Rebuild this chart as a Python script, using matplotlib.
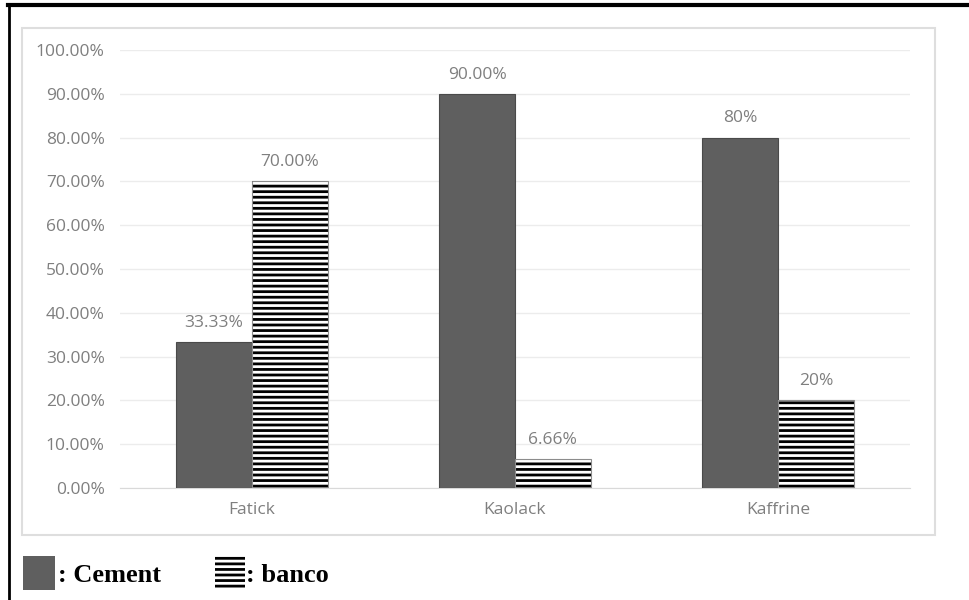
import matplotlib
import matplotlib.pyplot as plt
from matplotlib.lines import Line2D
from matplotlib.patches import Rectangle
import numpy as np

matplotlib.rcParams["hatch.linewidth"] = 2.0
matplotlib.rcParams["hatch.color"] = "black"

# ── data ──────────────────────────────────────────────
regions = ["Fatick", "Kaolack", "Kaffrine"]
cement = [33.33, 90.00, 80.0]
banco = [70.00, 6.66, 20.0]
cement_labels = ["33.33%", "90.00%", "80%"]
banco_labels = ["70.00%", "6.66%", "20%"]
yticks = [0, 10, 20, 30, 40, 50, 60, 70, 80, 90, 100]

W, H = 970, 600
fig = plt.figure(figsize=(W / 100, H / 100), dpi=100)
ax = fig.add_axes([120 / W, (H - 488) / H, (910 - 120) / W, (488 - 50) / H])

x = np.arange(len(regions))
bw = 0.288
CEMENT_COLOR = "#5f5f5f"

ax.bar(x - bw / 2, cement, bw, color=CEMENT_COLOR, edgecolor="#4a4a4a", linewidth=0.8, zorder=3)
# black stripes first, then a thin grey outline on top
ax.bar(x + bw / 2, banco, bw, color="white", edgecolor="black", hatch="---", linewidth=0, zorder=3)
ax.bar(x + bw / 2, banco, bw, fill=False, edgecolor="#8c8c8c", linewidth=0.8, zorder=4)

label_font = dict(fontsize=12.5, color="#7f7f7f", family="Open Sans")
for xi, v, s in zip(x - bw / 2, cement, cement_labels):
    ax.annotate(s, (xi, v), xytext=(0, 8), textcoords="offset points", ha="center", va="bottom", **label_font)
for xi, v, s in zip(x + bw / 2, banco, banco_labels):
    ax.annotate(s, (xi, v), xytext=(0, 8), textcoords="offset points", ha="center", va="bottom", **label_font)

ax.set_xlim(-0.5, 2.5)
ax.set_ylim(0, 100)
ax.set_yticks(yticks)
ax.set_yticklabels([f"{t:.2f}%" for t in yticks], **label_font)
ax.set_xticks(x)
ax.set_xticklabels(regions, **label_font)
ax.tick_params(length=0)
ax.tick_params(axis="y", pad=11)
ax.tick_params(axis="x", pad=10)
ax.grid(axis="y", color="#ececec", linewidth=1.0, zorder=0)
for side in ["top", "right", "left"]:
    ax.spines[side].set_visible(False)
ax.spines["bottom"].set_color("#d9d9d9")

# chart area frame (light gray) and outer black frame
fig.patches.append(Rectangle((22 / W, (H - 535) / H), (935 - 22) / W, (535 - 28) / H,
                             transform=fig.transFigure, fill=False, edgecolor="#dedede", linewidth=1.5))
fig.add_artist(Line2D([8 / W, 1], [(H - 5) / H] * 2, transform=fig.transFigure, color="black", linewidth=3))
fig.add_artist(Line2D([9.5 / W] * 2, [0, (H - 5) / H], transform=fig.transFigure, color="black", linewidth=2))

# manual legend at bottom
fig.patches.append(Rectangle((23 / W, (H - 590) / H), 32 / W, 34 / H,
                             transform=fig.transFigure, facecolor=CEMENT_COLOR, edgecolor="none"))
fig.text(58 / W, (H - 576) / H, ": Cement", fontsize=19, fontweight="bold",
         family="Liberation Serif", va="center", ha="left")
fig.patches.append(Rectangle((215 / W, (H - 590) / H), 30 / W, 34 / H,
                             transform=fig.transFigure, facecolor="white", edgecolor="black",
                             linewidth=0, hatch="---"))
fig.text(246 / W, (H - 576) / H, ": banco", fontsize=19, fontweight="bold",
         family="Liberation Serif", va="center", ha="left")

fig.savefig("out.png", dpi=100)
